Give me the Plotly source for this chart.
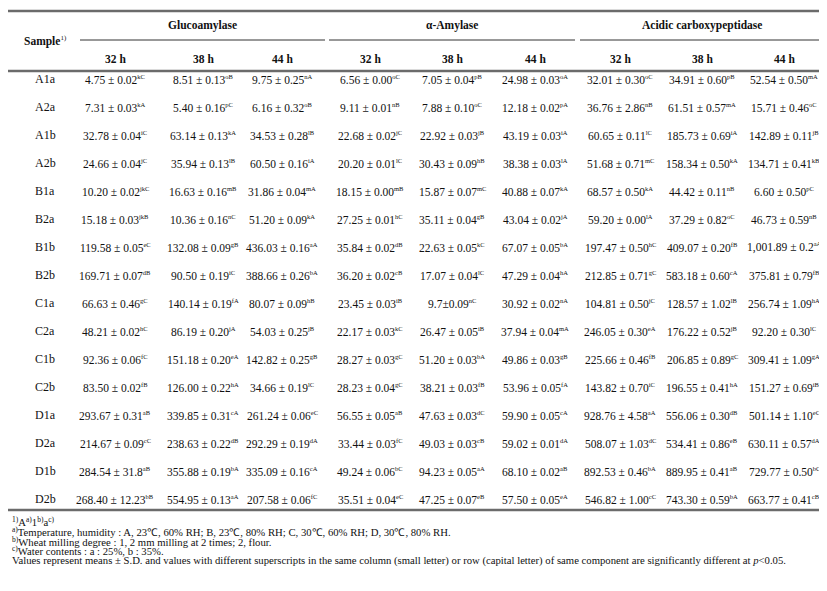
import plotly.graph_objects as go

# ---------------- data ----------------
samples = ["A1a", "A2a", "A1b", "A2b", "B1a", "B2a", "B1b", "B2b",
           "C1a", "C2a", "C1b", "C2b", "D1a", "D2a", "D1b", "D2b"]
enzymes = ["Glucoamylase", "α-Amylase", "Acidic carboxypeptidase"]
times = ["32 h", "38 h", "44 h"]

gluco_32 = ["4.75 ± 0.02", "7.31 ± 0.03", "32.78 ± 0.04", "24.66 ± 0.04", "10.20 ± 0.02", "15.18 ± 0.03",
            "119.58 ± 0.05", "169.71 ± 0.07", "66.63 ± 0.46", "48.21 ± 0.02", "92.36 ± 0.06", "83.50 ± 0.02",
            "293.67 ± 0.31", "214.67 ± 0.09", "284.54 ± 31.8", "268.40 ± 12.23"]
gluco_32_sup = ["kC", "kA", "iC", "jC", "jkC", "jkB", "eC", "dB", "gC", "hC", "fC", "fB", "aB", "cC", "aB", "bB"]
gluco_38 = ["8.51 ± 0.13", "5.40 ± 0.16", "63.14 ± 0.13", "35.94 ± 0.13", "16.63 ± 0.16", "10.36 ± 0.16",
            "132.08 ± 0.09", "90.50 ± 0.19", "140.14 ± 0.19", "86.19 ± 0.20", "151.18 ± 0.20", "126.00 ± 0.22",
            "339.85 ± 0.31", "238.63 ± 0.22", "355.88 ± 0.19", "554.95 ± 0.13"]
gluco_38_sup = ["oB", "pC", "kA", "lB", "mB", "nC", "gB", "iC", "fA", "jA", "eA", "hA", "cA", "dB", "bA", "aA"]
gluco_44 = ["9.75 ± 0.25", "6.16 ± 0.32", "34.53 ± 0.28", "60.50 ± 0.16", "31.86 ± 0.04", "51.20 ± 0.09",
            "436.03 ± 0.16", "388.66 ± 0.26", "80.07 ± 0.09", "54.03 ± 0.25", "142.82 ± 0.25", "34.66 ± 0.19",
            "261.24 ± 0.06", "292.29 ± 0.19", "335.09 ± 0.16", "207.58 ± 0.06"]
gluco_44_sup = ["nA", "oB", "lB", "iA", "mA", "kA", "aA", "bA", "hB", "jB", "gB", "lC", "eC", "dA", "cA", "fC"]

amyl_32 = ["6.56 ± 0.00", "9.11 ± 0.01", "22.68 ± 0.02", "20.20 ± 0.01", "18.15 ± 0.00", "27.25 ± 0.01",
           "35.84 ± 0.02", "36.20 ± 0.02", "23.45 ± 0.03", "22.17 ± 0.03", "28.27 ± 0.03", "28.23 ± 0.04",
           "56.55 ± 0.05", "33.44 ± 0.03", "49.24 ± 0.06", "35.51 ± 0.04"]
amyl_32_sup = ["oC", "nB", "jC", "lC", "mB", "hC", "dB", "cB", "iB", "kC", "gC", "gC", "aB", "fC", "bC", "eC"]
amyl_38 = ["7.05 ± 0.04", "7.88 ± 0.10", "22.92 ± 0.03", "30.43 ± 0.09", "15.87 ± 0.07", "35.11 ± 0.04",
           "22.63 ± 0.05", "17.07 ± 0.04", "9.7±0.09", "26.47 ± 0.05", "51.20 ± 0.03", "38.21 ± 0.03",
           "47.63 ± 0.03", "49.03 ± 0.03", "94.23 ± 0.05", "47.25 ± 0.07"]
amyl_38_sup = ["pB", "oC", "jB", "hB", "mC", "gB", "kC", "lC", "nC", "iB", "bA", "fB", "dC", "cB", "aA", "eB"]
amyl_44 = ["24.98 ± 0.03", "12.18 ± 0.02", "43.19 ± 0.03", "38.38 ± 0.03", "40.88 ± 0.07", "43.04 ± 0.02",
           "67.07 ± 0.05", "47.29 ± 0.04", "30.92 ± 0.02", "37.94 ± 0.04", "49.86 ± 0.03", "53.96 ± 0.05",
           "59.90 ± 0.05", "59.02 ± 0.01", "68.10 ± 0.02", "57.50 ± 0.05"]
amyl_44_sup = ["oA", "pA", "iA", "lA", "kA", "jA", "bA", "hA", "nA", "mA", "gB", "fA", "cA", "dA", "aB", "eA"]

acid_32 = ["32.01 ± 0.30", "36.76 ± 2.86", "60.65 ± 0.11", "51.68 ± 0.71", "68.57 ± 0.50", "59.20 ± 0.00",
           "197.47 ± 0.50", "212.85 ± 0.71", "104.81 ± 0.50", "246.05 ± 0.30", "225.66 ± 0.46", "143.82 ± 0.70",
           "928.76 ± 4.58", "508.07 ± 1.03", "892.53 ± 0.46", "546.82 ± 1.00"]
acid_32_sup = ["oC", "nB", "lC", "mC", "kA", "lA", "hC", "gC", "jC", "eA", "fB", "iC", "aA", "dC", "bA", "cC"]
acid_38 = ["34.91 ± 0.60", "61.51 ± 0.57", "185.73 ± 0.69", "158.34 ± 0.50", "44.42 ± 0.11", "37.29 ± 0.82",
           "409.07 ± 0.20", "583.18 ± 0.60", "128.57 ± 1.02", "176.22 ± 0.52", "206.85 ± 0.89", "196.55 ± 0.41",
           "556.06 ± 0.30", "534.41 ± 0.86", "889.95 ± 0.41", "743.30 ± 0.59"]
acid_38_sup = ["pB", "mA", "iA", "kA", "nB", "oC", "fB", "cA", "lB", "jB", "gC", "hA", "dB", "eB", "aB", "bA"]
acid_44 = ["52.54 ± 0.50", "15.71 ± 0.46", "142.89 ± 0.11", "134.71 ± 0.41", "6.60 ± 0.50", "46.73 ± 0.59",
           "1,001.89 ± 0.2", "375.81 ± 0.79", "256.74 ± 1.09", "92.20 ± 0.30", "309.41 ± 1.09", "151.27 ± 0.69",
           "501.14 ± 1.10", "630.11 ± 0.57", "729.77 ± 0.50", "663.77 ± 0.41"]
acid_44_sup = ["mA", "oC", "jB", "kB", "pC", "nB", "aA", "fB", "hA", "lC", "gA", "iB", "eC", "dA", "bC", "cB"]

footnotes = [
    "<sup>1)</sup>A<sup>a)</sup>1<sup>b)</sup>a<sup>c)</sup>",
    "<sup>a)</sup>Temperature, humidity : A, 23℃, 60% RH; B, 23℃, 80% RH; C, 30℃, 60% RH; D, 30℃, 80% RH.",
    "<sup>b)</sup>Wheat milling degree : 1, 2 mm milling at 2 times; 2, flour.",
    "<sup>c)</sup>Water contents : a : 25%, b : 35%.",
    "Values represent means ± S.D. and values with different superscripts in the same column (small letter) "
    "or row (capital letter) of same component are significantly different at <i>p</i>&lt;0.05.",
]

columns = [(gluco_32, gluco_32_sup), (gluco_38, gluco_38_sup), (gluco_44, gluco_44_sup),
           (amyl_32, amyl_32_sup), (amyl_38, amyl_38_sup), (amyl_44, amyl_44_sup),
           (acid_32, acid_32_sup), (acid_38, acid_38_sup), (acid_44, acid_44_sup)]

# ---------------- layout / style ----------------
W, H = 827, 591
FONT = "Liberation Serif, Times New Roman, serif"
TXT = "#111111"
sample_x = 37
col_x = [107, 195, 274, 362, 444, 527, 612, 694, 776]
group_spans = [(72, 317), (321, 567), (572, 815)]
row0_px, row_step = 71, 28.0
y_top = -row0_px / row_step
y_bot = y_top + H / row_step


def py(px):
    return 1 - px / H


def small_sup(s, size=6.5):
    return f'<sup><span style="font-size:{size}px">{s}</span></sup>'


fig = go.Figure()
# invisible anchor trace so the axes exist with the sample categories
fig.add_trace(go.Scatter(x=[sample_x] * len(samples), y=samples, mode="markers",
                         marker=dict(size=1, color="rgba(0,0,0,0)"), hoverinfo="skip",
                         showlegend=False))

ann = []
for s in samples:
    ann.append(dict(x=sample_x, y=s, xref="x", yref="y", text=s,
                    font=dict(family=FONT, size=12, color=TXT)))
for cx, (vals, sups) in zip(col_x, columns):
    for s, v, sp in zip(samples, vals, sups):
        ann.append(dict(x=cx, y=s, xref="x", yref="y", text=v + small_sup(sp),
                        font=dict(family=FONT, size=11.5, color=TXT)))

ann.append(dict(x=sample_x, y=py(33), xref="x", yref="paper",
                text="<b>Sample</b>" + small_sup("1)", 7), font=dict(family=FONT, size=11.5, color=TXT)))
for (x0, x1), name in zip(group_spans, enzymes):
    ann.append(dict(x=(x0 + x1) / 2, y=py(18), xref="x", yref="paper", text=f"<b>{name}</b>",
                    font=dict(family=FONT, size=11.5, color=TXT)))
for i, cx in enumerate(col_x):
    ann.append(dict(x=cx, y=py(51), xref="x", yref="paper", text=f"<b>{times[i % 3]}</b>",
                    font=dict(family=FONT, size=11.5, color=TXT)))
for a in ann:
    a.update(showarrow=False, xanchor="center", yanchor="middle")

foot_y = [513, 523, 533, 542, 552]
for t, yy in zip(footnotes, foot_y):
    ann.append(dict(x=2, y=py(yy), xref="x", yref="paper", text=t, showarrow=False,
                    xanchor="left", yanchor="middle",
                    font=dict(family=FONT, size=10.7, color=TXT)))

shapes = []
for yy in (3, 63, 502):
    shapes.append(dict(type="line", xref="x", yref="paper", x0=0, x1=816, y0=py(yy), y1=py(yy),
                       line=dict(color="#6b6b6b", width=2.5)))
for x0, x1 in group_spans:
    shapes.append(dict(type="line", xref="x", yref="paper", x0=x0, x1=x1, y0=py(32), y1=py(32),
                       line=dict(color="#333333", width=1)))

fig.update_layout(
    width=W, height=H, margin=dict(l=0, r=0, t=0, b=0),
    paper_bgcolor="white", plot_bgcolor="white",
    xaxis=dict(range=[0, W], visible=False, fixedrange=True),
    yaxis=dict(type="category", categoryorder="array", categoryarray=samples,
               range=[y_bot, y_top], visible=False, fixedrange=True),
    annotations=ann, shapes=shapes, showlegend=False,
)

fig.write_html("out.html")
